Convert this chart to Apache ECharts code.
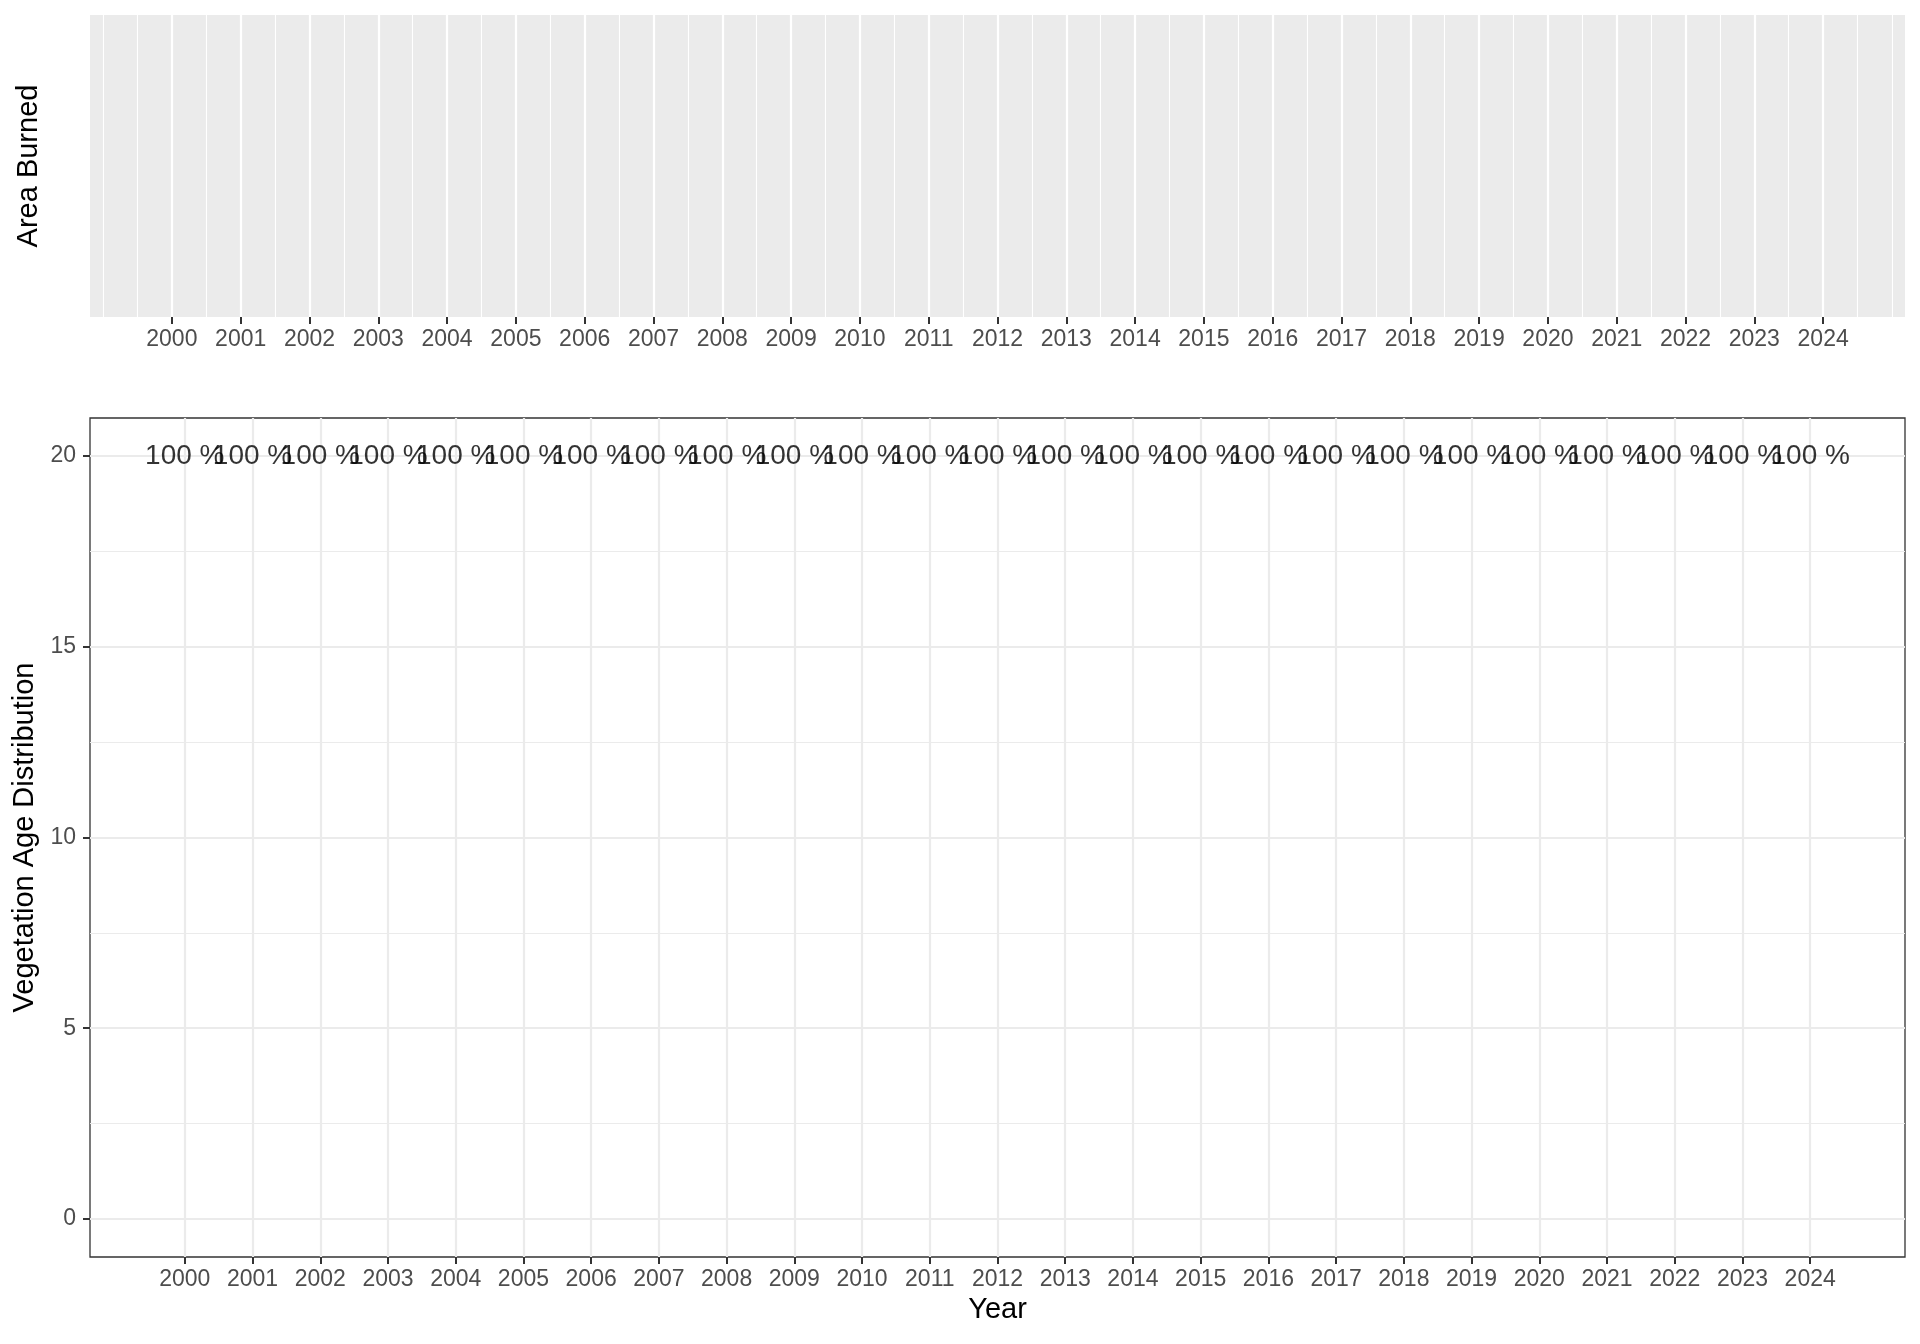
<!DOCTYPE html>
<html>
<head>
<meta charset="UTF-8">
<title>Area Burned / Vegetation Age Distribution</title>
<script src="https://cdn.jsdelivr.net/npm/echarts@6/dist/echarts.min.js"></script>
<style>
  html, body { margin: 0; padding: 0; background: #fff; }
  #main { width: 1920px; height: 1344px; }
</style>
</head>
<body>
<div id="main"></div>
<script>
// years shown on both panels
var years = [2000, 2001, 2002, 2003, 2004, 2005, 2006, 2007, 2008, 2009, 2010, 2011, 2012,
             2013, 2014, 2015, 2016, 2017, 2018, 2019, 2020, 2021, 2022, 2023, 2024];
// label text drawn on the lower panel, one per year
var pctLabels = ['100 %', '100 %', '100 %', '100 %', '100 %', '100 %', '100 %', '100 %', '100 %',
                 '100 %', '100 %', '100 %', '100 %', '100 %', '100 %', '100 %', '100 %', '100 %',
                 '100 %', '100 %', '100 %', '100 %', '100 %', '100 %', '100 %'];
// height at which each label sits
var labelY = [20, 20, 20, 20, 20, 20, 20, 20, 20, 20, 20, 20, 20,
              20, 20, 20, 20, 20, 20, 20, 20, 20, 20, 20, 20];
var yTicks = [0, 5, 10, 15, 20];
var yMinor = [2.5, 7.5, 12.5, 17.5];

// minor grid for the top panel (half years, 1999 .. 2025)
var halfYears = [];
for (var h = 1999; h <= 2025; h += 0.5) halfYears.push(h);

var FONT = 'Liberation Sans';
var fmtYear = function (v) { return String(Math.round(v)); };

var chart = echarts.init(document.getElementById('main'));

var labelData = [];
for (var i = 0; i < years.length; i++) {
    labelData.push({ value: [years[i], labelY[i]], txt: pctLabels[i] });
}

var tickStyle = { color: '#333333', width: 2 };

var option = {
    backgroundColor: '#ffffff',
    animation: false,
    textStyle: { fontFamily: FONT },
    grid: [
        { left: 90, right: 15, top: 15, height: 302, show: true,
          backgroundColor: '#EBEBEB', borderWidth: 0 },
        { left: 90, right: 15, top: 418, bottom: 87, show: true,
          backgroundColor: '#ffffff', borderColor: '#333333', borderWidth: 1.3 }
    ],
    xAxis: [
        { // top panel, major
          type: 'value', gridIndex: 0, min: 1998.81, max: 2025.19,
          axisLine: { show: false, onZero: false },
          axisTick: { show: true, customValues: years, length: 7, lineStyle: tickStyle },
          axisLabel: { customValues: years, formatter: fmtYear, color: '#4D4D4D',
                       fontSize: 23, margin: 11, fontFamily: FONT },
          splitLine: { show: true, lineStyle: { color: '#ffffff', width: 2.2 } }
        },
        { // top panel, minor
          type: 'value', gridIndex: 0, min: 1998.81, max: 2025.19,
          axisLine: { show: false, onZero: false },
          axisTick: { show: false, customValues: halfYears },
          axisLabel: { show: false },
          splitLine: { show: true, lineStyle: { color: '#ffffff', width: 1.1 } }
        },
        { // lower panel
          type: 'value', gridIndex: 1, min: 1998.6, max: 2025.4,
          name: 'Year', nameLocation: 'middle', nameGap: 38,
          nameTextStyle: { color: '#000000', fontSize: 29, fontFamily: FONT },
          axisLine: { show: false, onZero: false },
          axisTick: { show: true, customValues: years, length: 7, lineStyle: tickStyle },
          axisLabel: { customValues: years, formatter: fmtYear, color: '#4D4D4D',
                       fontSize: 23, margin: 11, fontFamily: FONT },
          splitLine: { show: true, lineStyle: { color: '#EBEBEB', width: 2.2 } }
        }
    ],
    yAxis: [
        { type: 'value', gridIndex: 0, min: 0, max: 1,
          name: 'Area Burned', nameLocation: 'middle', nameGap: 47,
          nameTextStyle: { color: '#000000', fontSize: 29, fontFamily: FONT },
          axisLine: { show: false, onZero: false }, axisTick: { show: false },
          axisLabel: { show: false }, splitLine: { show: false } },
        { type: 'value', gridIndex: 1, min: -1, max: 21,
          name: 'Vegetation Age Distribution', nameLocation: 'middle', nameGap: 47,
          nameTextStyle: { color: '#000000', fontSize: 29, fontFamily: FONT },
          axisLine: { show: false, onZero: false },
          axisTick: { show: true, customValues: yTicks, length: 7, lineStyle: tickStyle },
          axisLabel: { customValues: yTicks, color: '#4D4D4D', fontSize: 23,
                       margin: 14, fontFamily: FONT },
          splitLine: { show: true, lineStyle: { color: '#EBEBEB', width: 2.2 } } },
        { type: 'value', gridIndex: 1, min: -1, max: 21,
          axisLine: { show: false, onZero: false },
          axisTick: { show: false, customValues: yMinor },
          axisLabel: { show: false },
          splitLine: { show: true, lineStyle: { color: '#EBEBEB', width: 1.1 } } }
    ],
    series: [
        { type: 'scatter', xAxisIndex: 2, yAxisIndex: 1, symbolSize: 0,
          data: labelData,
          label: { show: true, position: 'inside', color: '#000000', fontSize: 28,
                   fontFamily: FONT, formatter: function (p) { return p.data.txt; } },
          silent: true }
    ]
};
chart.setOption(option);
</script>
</body>
</html>
